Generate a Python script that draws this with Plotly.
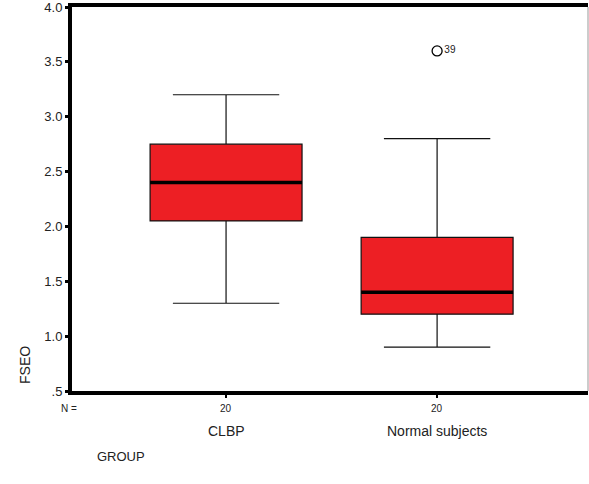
import plotly.graph_objects as go

groups = ["CLBP", "Normal subjects"]
n_counts = [20, 20]
q1 = [2.05, 1.20]
medians = [2.40, 1.40]
q3 = [2.75, 1.90]
lower = [1.30, 0.90]
upper = [3.20, 2.80]
outlier_group = [1]
outlier_value = [3.60]
outlier_label = ["39"]
y_ticks = [0.5, 1.0, 1.5, 2.0, 2.5, 3.0, 3.5, 4.0]
y_ticktext = [".5", "1.0", "1.5", "2.0", "2.5", "3.0", "3.5", "4.0"]

xpos = list(range(len(groups)))
box_w = 0.72
FONT = "Liberation Sans, Arial, sans-serif"

fig = go.Figure()
fig.add_trace(go.Box(
    x=xpos, q1=q1, median=medians, q3=q3, lowerfence=lower, upperfence=upper,
    width=box_w, whiskerwidth=0.7, fillcolor="#ED1F24",
    line=dict(color="#111111", width=1.2), boxpoints=False, showlegend=False,
    hoverinfo="skip"))

# thick median lines
for xi, m in zip(xpos, medians):
    fig.add_trace(go.Scatter(x=[xi - box_w / 2, xi + box_w / 2], y=[m, m], mode="lines",
                             line=dict(color="black", width=3.5), showlegend=False, hoverinfo="skip"))

fig.add_trace(go.Scatter(
    x=[xpos[g] for g in outlier_group], y=outlier_value, mode="markers+text",
    marker=dict(symbol="circle-open", size=10, color="black", line=dict(width=1.3)),
    text=outlier_label, textposition="middle right",
    textfont=dict(size=10, color="#222", family=FONT), showlegend=False, hoverinfo="skip"))

fig.update_xaxes(range=[-0.73, 1.715], tickvals=xpos, ticktext=["" for _ in groups],
                 ticks="outside", ticklen=3, tickwidth=2, tickcolor="black",
                 showline=True, linecolor="black", linewidth=4, mirror=True,
                 showgrid=False, zeroline=False)
fig.update_yaxes(range=[0.5, 4.0], tickvals=y_ticks, ticktext=y_ticktext,
                 ticks="outside", ticklen=3, tickwidth=3, tickcolor="black",
                 showline=True, linecolor="black", linewidth=4,
                 showgrid=False, zeroline=False, ticklabeloverflow="allow",
                 tickfont=dict(size=13, family=FONT, color="#222"))

ann = []
for xi, n, g in zip(xpos, n_counts, groups):
    ann.append(dict(x=xi, y=-0.026, xref="x", yref="paper", text=str(n), showarrow=False,
                    font=dict(size=10, family=FONT, color="#222"), yanchor="top"))
    ann.append(dict(x=xi, y=-0.078, xref="x", yref="paper", text=g, showarrow=False,
                    font=dict(size=14, family=FONT, color="#222"), yanchor="top"))
ann.append(dict(x=-0.005, y=-0.026, xref="paper", yref="paper", text="N =", showarrow=False,
                font=dict(size=10, family=FONT, color="#222"), yanchor="top", xanchor="center"))
ann.append(dict(x=0.045, y=-0.145, xref="paper", yref="paper", text="GROUP", showarrow=False,
                font=dict(size=13, family=FONT, color="#222"), yanchor="top", xanchor="left"))
ann.append(dict(x=-0.091, y=0.068, xref="paper", yref="paper", text="FSEO", showarrow=False,
                textangle=-90, font=dict(size=14, family=FONT, color="#222"),
                xanchor="center", yanchor="middle"))

fig.update_layout(
    width=589, height=484, margin=dict(l=72, r=1, t=7, b=93),
    paper_bgcolor="white", plot_bgcolor="white", annotations=ann, hovermode=False,
    shapes=[dict(type="line", xref="paper", yref="paper", x0=1, x1=1, y0=0, y1=1,
                 line=dict(color="#999999", width=1))])

fig.write_html("out.html", config={"displayModeBar": False})
with open("out.html", "r", encoding="utf-8") as f:
    html = f.read()
html = html.replace("<head>", "<head><style>html,body{margin:0;padding:0;}</style>", 1)
with open("out.html", "w", encoding="utf-8") as f:
    f.write(html)
